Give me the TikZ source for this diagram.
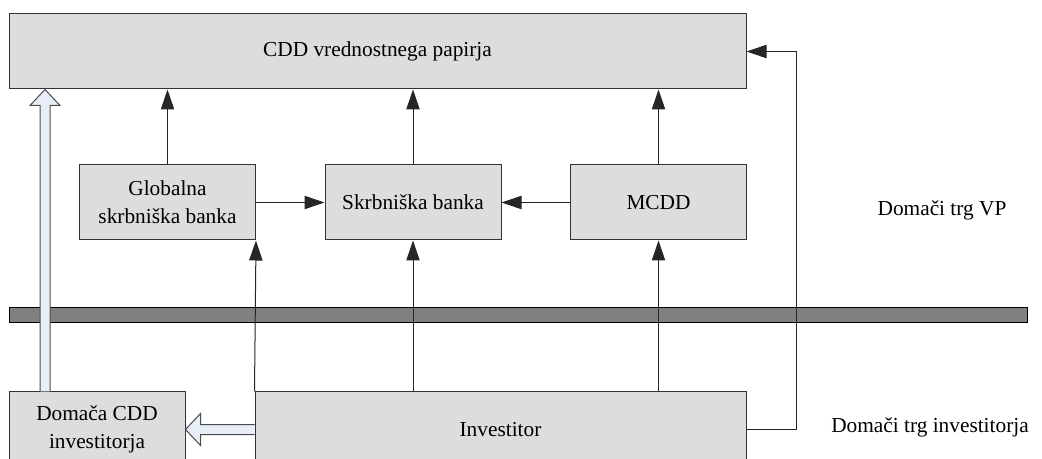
\documentclass[tikz,border=0pt]{standalone}
\usepackage{fontspec}
\setmainfont{Liberation Serif}
\usetikzlibrary{arrows.meta,positioning,calc}
\definecolor{boxgray}{RGB}{221,221,221}
\definecolor{bargray}{RGB}{128,128,128}
\definecolor{paleblue}{RGB}{232,238,248}

\begin{document}
\begin{tikzpicture}[x=0.75pt,y=-0.75pt,
    box/.style={draw=black!80,fill=boxgray,line width=0.75pt,minimum width=132pt,minimum height=56.25pt,inner sep=0pt,align=center,font=\fontsize{16}{21}\selectfont},
    conn/.style={draw=black!85,line width=0.75pt,-{Triangle[length=15pt,width=10pt]}},
    hollow/.style={draw=black!70,fill=paleblue,line width=0.75pt,line join=miter},
    lbl/.style={font=\fontsize{16}{21}\selectfont}]
              \useasboundingbox (0,0) rectangle (1042,459);
              \clip (0,0) rectangle (1042,459);
              % border between the two markets
              \filldraw[fill=bargray,draw=black,line width=0.75pt] (9,308) rectangle (1027,323);

              \node[box,minimum width=552.75pt] (cdd) at (377.5,51.5) {CDD vrednostnega papirja};
              \node[box] (glob) at (167.5,202.5) {Globalna\\skrbniška banka};
              \node[box] (skr) at (413,202.5) {Skrbniška banka};
              \node[box] (mcdd) at (658.5,202.5) {MCDD};
              \node[box] (dom) at (97,429.5) {Domača CDD\\investitorja};
              \node[box,minimum width=368.25pt] (inv) at (500.5,429.5) {Investitor};

              \node[lbl] (trgvp) at (942,210) {Domači trg VP};
              \node[lbl] (trginv) at (930,427) {Domači trg investitorja};

              \draw[conn] (glob.north) -- (glob.north |- cdd.south);
              \draw[conn] (skr.north) -- (skr.north |- cdd.south);
              \draw[conn] (mcdd.north) -- (mcdd.north |- cdd.south);
              \draw[conn] (glob) -- (skr);
              \draw[conn] (mcdd) -- (skr);
              \draw[conn] (inv.north west) -- (glob.south east);
              \draw[conn] (inv.north -| skr.south) -- (skr.south);
              \draw[conn] (inv.north -| mcdd.south) -- (mcdd.south);
              \draw[conn] (inv.east) -- ++(50,0) |- (cdd.east);

              % hollow arrows
              \draw[hollow] (dom.north -| 40,0) -- ($(cdd.south -| 40,0)+(0,16)$) -- ++(-10,0)
                -- (cdd.south -| 45,0) -- ++(15,16) -- ++(-10,0) -- (dom.north -| 50,0);
              \draw[hollow] ($(inv.west)+(0,-5)$) -- ($(dom.east)+(15,-5)$) -- ++(0,-11)
                -- (dom.east) -- ++(15,16) -- ++(0,-11) -- ($(inv.west)+(0,5)$);
            \end{tikzpicture}
\end{document}
